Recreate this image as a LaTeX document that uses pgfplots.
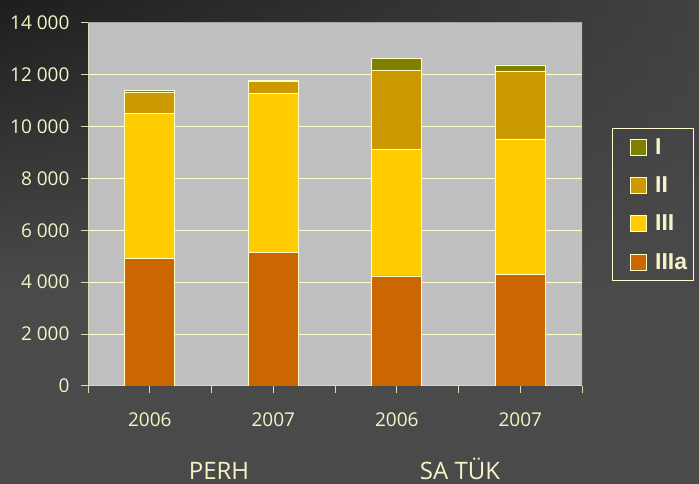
\documentclass[border=0pt]{standalone}
\usepackage{fontspec}
\setmainfont{Open Sans}
\newfontfamily\legfont{Liberation Sans}
\usepackage{pgfplots}
\pgfplotsset{compat=1.18}
\usetikzlibrary{fadings}

\definecolor{cIIIa}{HTML}{CC6600}
\definecolor{cIII}{HTML}{FFCC00}
\definecolor{cII}{HTML}{CC9900}
\definecolor{cI}{HTML}{808000}
\definecolor{plotbg}{HTML}{C0C0C0}
\definecolor{gridc}{HTML}{FFFFCC}
\definecolor{txt}{HTML}{F4F4C8}
\definecolor{axc}{HTML}{DCDCB4}
\definecolor{bordgray}{HTML}{A4A49C}
\definecolor{bgtop}{HTML}{1E1E1E}
\definecolor{bgtopr}{HTML}{424242}
\definecolor{bgbot}{HTML}{4A4A4A}

\pgfplotsset{
  sq/.style={draw=gridc, line width=0.8bp,
    legend image code/.code={%
      \draw[##1, draw=gridc, line width=0.8bp] (13bp,-8bp) rectangle (29bp,8bp);
      \path (0bp,0bp) (36bp,0bp);}},
}

\begin{document}
\begin{tikzpicture}
\useasboundingbox (0,0) rectangle (699bp,484bp);
\fill[bgbot] (0,0) rectangle (699bp,484bp);
% dark corner top left, fading out downwards
\shade[left color=bgtop, right color=bgtopr, path fading=south]
  (0,200bp) rectangle (699bp,484bp);
\begin{axis}[
  at={(88bp,98bp)}, anchor=south west,
  scale only axis, width=494bp, height=363.3bp,
  ybar stacked, bar width=50bp,
  xmin=-0.5, xmax=3.5, ymin=0, ymax=14000,
  ytick distance=2000,
  scaled y ticks=false,
  xtick={-0.5,0.5,1.5,2.5,3.5},
  xticklabels={},
  extra x ticks={0,1,2,3},
  extra x tick labels={2006,2007,2006,2007},
  extra x tick style={tick style={draw=none}, grid=none},
  xtick pos=bottom, ytick pos=left,
  tick align=outside,
  major tick length=7bp,
  major tick style={draw=axc, line width=1bp},
  axis line style={draw=none},
  axis background/.style={fill=plotbg},
  ymajorgrids, xmajorgrids=false,
  grid style={draw=gridc, line width=1bp},
  /pgf/number format/assume math mode=true,
  /pgf/number format/fixed,
  /pgf/number format/1000 sep={\ },
  ticklabel style={text=txt, font=\fontsize{19bp}{22bp}\selectfont},
  yticklabel style={xshift=-8bp},
  xticklabel style={yshift=-16bp},
  reverse legend,
  legend cell align=left,
  legend style={at={(1.0607,0.710)}, anchor=north west,
    draw=gridc, fill=none, line width=0.8bp, text=txt,
    font=\fontsize{23bp}{26bp}\selectfont\legfont\bfseries,
    nodes={inner sep=1bp},
    inner xsep=5bp, inner ysep=9bp, row sep=19bp},
]
\addplot[sq, fill=cIIIa] coordinates {(0,4900) (1,5140) (2,4240) (3,4300)};
\addplot[sq, fill=cIII] coordinates {(0,5600) (1,6140) (2,4890) (3,5220)};
\addplot[sq, fill=cII] coordinates {(0,830) (1,470) (2,3040) (3,2620)};
\addplot[sq, fill=cI] coordinates {(0,50) (1,40) (2,440) (3,230)};
\legend{IIIa,III,II,I}
\draw[draw=bordgray, line width=0.8bp] (rel axis cs:0,1) -- (rel axis cs:1,1) -- (rel axis cs:1,0);
\draw[draw=axc, line width=1bp] (rel axis cs:0,1) -- (rel axis cs:0,0) -- (rel axis cs:1,0);
\end{axis}
\node[text=txt, font=\fontsize{24bp}{28bp}\selectfont, anchor=base] at (219bp,5bp) {PERH};
\node[text=txt, font=\fontsize{24bp}{28bp}\selectfont, anchor=base] at (460bp,5bp) {SA TÜK};
\end{tikzpicture}
\end{document}
